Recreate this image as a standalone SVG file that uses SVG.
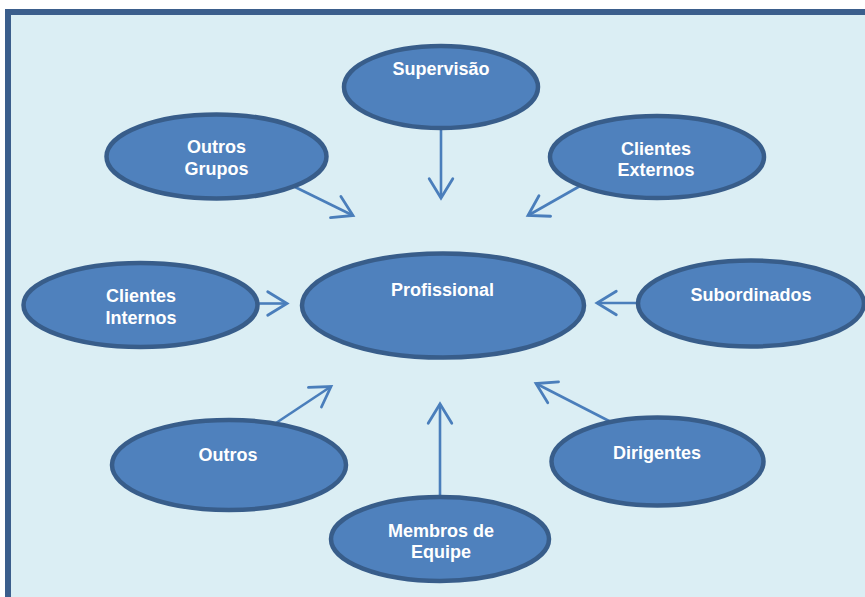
<svg xmlns="http://www.w3.org/2000/svg" width="865" height="597" viewBox="0 0 865 597">
<defs>
<style>
.frame{fill:#dbeef4;stroke:#3b5e8c;stroke-width:6}
.node ellipse{fill:#4f81bd;stroke:#385d8a;stroke-width:4.5}
.node text{fill:#ffffff;font-family:"Liberation Sans",Arial,sans-serif;font-weight:bold;font-size:18px;text-anchor:middle}
.conn line{stroke:#4a7ebb;stroke-width:2.6;fill:none;marker-end:url(#arr)}
</style>
<marker id="arr" markerUnits="userSpaceOnUse" markerWidth="30" markerHeight="30" viewBox="-22 -14 26 28" refX="0" refY="0" orient="auto">
<path d="M-18,-11 L0,0 L-18,11" fill="none" stroke="#4a7ebb" stroke-width="2.6" stroke-linecap="round" stroke-linejoin="miter"/>
</marker>
</defs>
<rect class="frame" x="8" y="12" width="900" height="600"/>
<g id="connectors" class="conn">
<line x1="441" y1="105" x2="441" y2="198"/>
<line x1="295" y1="187" x2="353" y2="215.5"/>
<line x1="580" y1="186" x2="528" y2="215.5"/>
<line x1="258" y1="303.5" x2="287" y2="303.5"/>
<line x1="637" y1="303" x2="597" y2="303"/>
<line x1="276" y1="423" x2="331" y2="386.5"/>
<line x1="610" y1="421.5" x2="536" y2="383.5"/>
<line x1="440" y1="498" x2="440" y2="404"/>
</g>
<g id="supervisao" class="node">
<ellipse cx="441" cy="87" rx="97" ry="41"/>
<text x="441" y="74.5">Supervisão</text>
</g>
<g id="outros-grupos" class="node">
<ellipse cx="216.5" cy="156.5" rx="110" ry="42"/>
<text x="216.5" y="153">Outros</text>
<text x="216.5" y="174.5">Grupos</text>
</g>
<g id="clientes-externos" class="node">
<ellipse cx="657" cy="157" rx="107" ry="41"/>
<text x="656" y="155">Clientes</text>
<text x="656" y="176">Externos</text>
</g>
<g id="clientes-internos" class="node">
<ellipse cx="140.5" cy="305" rx="117" ry="42"/>
<text x="141" y="302">Clientes</text>
<text x="141" y="324">Internos</text>
</g>
<g id="profissional" class="node">
<ellipse cx="443" cy="305.5" rx="141" ry="52"/>
<text x="442.5" y="296">Profissional</text>
</g>
<g id="subordinados" class="node">
<ellipse cx="751" cy="303.5" rx="113" ry="43"/>
<text x="751" y="301">Subordinados</text>
</g>
<g id="outros" class="node">
<ellipse cx="229" cy="465" rx="117" ry="45"/>
<text x="228" y="461">Outros</text>
</g>
<g id="dirigentes" class="node">
<ellipse cx="657.5" cy="461.5" rx="106" ry="44"/>
<text x="657" y="459">Dirigentes</text>
</g>
<g id="membros-de-equipe" class="node">
<ellipse cx="440" cy="539" rx="109" ry="42"/>
<text x="441" y="536.5">Membros de</text>
<text x="441" y="558">Equipe</text>
</g>
</svg>
